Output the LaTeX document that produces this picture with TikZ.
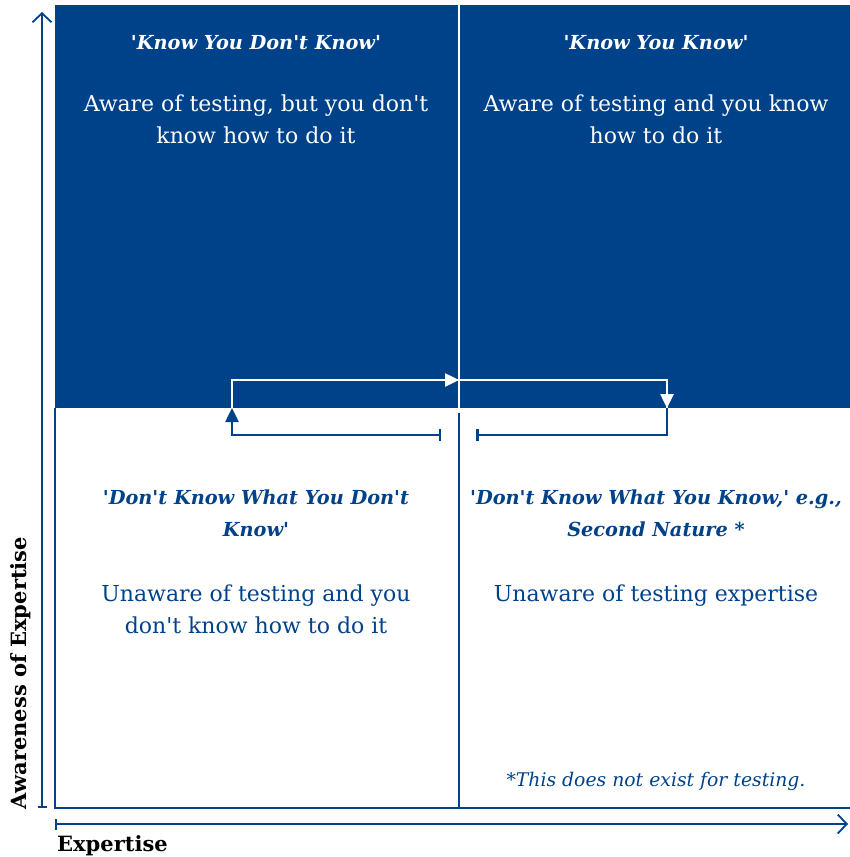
\documentclass[tikz,border=0pt]{standalone}
\usepackage{fontspec}
\setmainfont{DejaVu Serif}[Ligatures=TeXOff]
\usetikzlibrary{arrows.meta}
\definecolor{navy}{RGB}{0,66,137}

\tikzset{
  quadtitle/.style={align=center,inner sep=0pt,anchor=north,
    font=\fontsize{19.3}{32}\selectfont\bfseries\itshape},
  quadtext/.style={align=center,inner sep=0pt,anchor=north,
    font=\fontsize{22}{32}\selectfont},
  axislabel/.style={inner sep=0pt,font=\fontsize{21}{24}\selectfont\bfseries}
}

\begin{document}
\begin{tikzpicture}[x=1pt,y=-1pt]
  \useasboundingbox (0,0) rectangle (850,857);

  % quadrants
  \fill[navy] (55,5) rectangle (850,408);
  \draw[white,line width=2pt] (459,5) -- (459,408);
  \draw[navy,line width=2pt] (55,408) -- (55,808) -- (850,808);
  \draw[navy,line width=2pt] (459,413) -- (459,808);

  % axes
  \coordinate (y0) at (42,808);
  \coordinate (y1) at (42,12);
  \coordinate (x0) at (55,824);
  \coordinate (x1) at (848,824);
  \draw[navy,line width=1.8pt,{Bar[width=9pt]}-{Straight Barb[length=9pt,width=19pt]}] (y0) -- (y1);
  \draw[navy,line width=1.8pt,{Bar[width=11pt]}-{Straight Barb[length=9pt,width=19pt]}] (x0) -- (x1);
  \node[axislabel,rotate=90] (ylab) at (21,673) {Awareness of Expertise};
  \node[axislabel,anchor=west] (xlab) at (57,846) {Expertise};

  % text
  \begin{scope}[every node/.append style={text=white}]
    \node[quadtitle] (kdk) at (256,35) {'Know You Don't Know'};
    \node[quadtext] (kdktxt) at (256,95) {Aware of testing, but you don't\\know how to do it};
    \node[quadtitle] (kk) at (656,35) {'Know You Know'};
    \node[quadtext] (kktxt) at (656,95) {Aware of testing and you know\\how to do it};
  \end{scope}
  \begin{scope}[every node/.append style={text=navy}]
    \node[quadtitle] (dkdk) at (256,490) {'Don't Know What You Don't\\Know'};
    \node[quadtext] (dkdktxt) at (256,585) {Unaware of testing and you\\don't know how to do it};
    \node[quadtitle] (dkk) at (656,490) {'Don't Know What You Know,' e.g.,\\Second Nature *};
    \node[quadtext] (dkktxt) at (656,585) {Unaware of testing expertise};
    \node[quadtext,font=\fontsize{18.8}{22}\selectfont\itshape] (note) at (656,772) {*This does not exist for testing.};
  \end{scope}

  % loop
  \coordinate (la) at (441,435);
  \coordinate (lb) at (232,435);
  \coordinate (lc) at (232,408);
  \coordinate (ld) at (232,380);
  \coordinate (le) at (459,380);
  \coordinate (lf) at (667,380);
  \coordinate (lg) at (667,408);
  \coordinate (lh) at (667,435);
  \coordinate (li) at (476,435);
  \begin{scope}[line width=2.5pt,>={Triangle[length=14pt,width=13pt]}]
    \draw[navy,{Bar[width=12pt]}->] (la) -- (lb) -- (lc);
    \draw[white] (lc) -- (ld) -- (lf) -- (lg);
    \draw[white,->] (ld) -- (le);
    \draw[white,->] (lf) -- (lg);
    \draw[navy,-{Bar[width=12pt]}] (lg) -- (lh) -- (li);
  \end{scope}
\end{tikzpicture}
\end{document}
